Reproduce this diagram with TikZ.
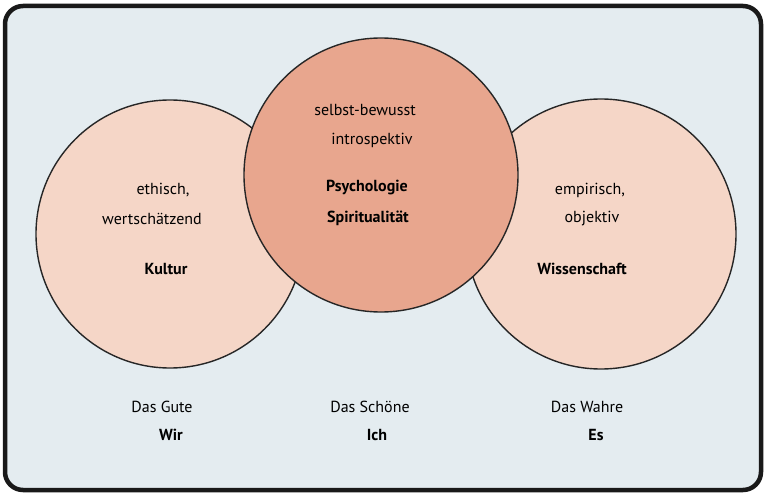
\documentclass[tikz,border=0pt]{standalone}
\usepackage{fontspec}
\setmainfont{PT Sans}
\usepackage{xcolor}
\usetikzlibrary{positioning}

\definecolor{hintergrund}{RGB}{228,236,240}
\definecolor{hellrosa}{RGB}{245,214,199}
\definecolor{lachs}{RGB}{232,166,142}

\tikzset{
  kreis/.style={circle, draw=black!85, line width=1.4pt, inner sep=0pt},
  txt/.style={inner sep=0pt, anchor=center},
  fett/.style={txt, font=\fontsize{16}{18}\selectfont\bfseries}
}

\begin{document}
\begin{tikzpicture}[x=1pt, y=-1pt, font=\fontsize{16}{18}\selectfont]
    \useasboundingbox (0,0) rectangle (766,495);
    % Rahmen
    \draw[line width=4.5pt, draw=black!90, rounded corners=18pt, fill=hintergrund]
       (5,6) rectangle (761,490);

    % Kreise links und rechts, Mitte darueber
    \node[kreis, fill=hellrosa, minimum size=268pt] (kultur) at (170,234) {};
    \node[kreis, fill=hellrosa, minimum size=270pt] (wissen) at (601,234) {};
    \node[kreis, fill=lachs, minimum size=274pt] (psycho) at (381,175) {};

    % Texte im linken Kreis
    \node[txt] (ethisch) at (163,190) {ethisch,};
    \node[txt] (wert) at (152,219) {wertschätzend};
    \node[fett] (kult) at (166,269) {Kultur};

    % Texte im mittleren Kreis
    \node[txt] (selbst) at (365,110) {selbst-bewusst};
    \node[txt] (intro) at (372,140) {introspektiv};
    \node[fett] (psy) at (367,188) {Psychologie};
    \node[fett] (spir) at (368,218) {Spiritualität};

    % Texte im rechten Kreis
    \node[txt] (empir) at (590,190) {empirisch,};
    \node[txt] (objekt) at (592,219) {objektiv};
    \node[fett] (wiss) at (582,269) {Wissenschaft};

    % Unten
    \node[txt] (gute) at (162,407) {Das Gute};
    \node[fett] (wir) at (171,435) {Wir};
    \node[txt] (schoen) at (370,407) {Das Schöne};
    \node[fett] (ich) at (377,435) {Ich};
    \node[txt] (wahre) at (587,407) {Das Wahre};
    \node[fett] (es) at (596,435) {Es};
\end{tikzpicture}
\end{document}
